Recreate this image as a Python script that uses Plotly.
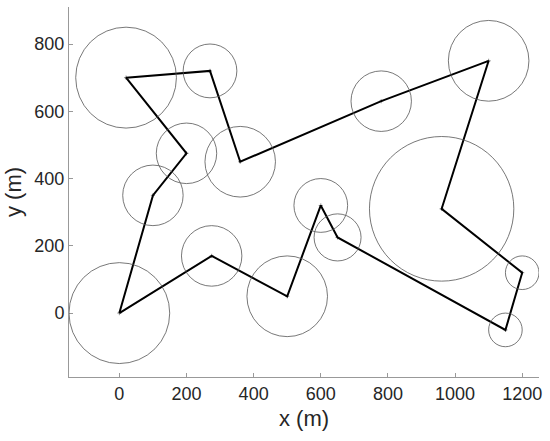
import plotly.graph_objects as go

# circle centres and radii (m)
cx = [0, 20, 270, 200, 360, 100, 275, 500, 600, 650, 780, 1100, 960, 1200, 1150]
cy = [0, 700, 720, 475, 450, 350, 170, 50, 320, 225, 630, 750, 310, 120, -50]
cr = [150, 150, 80, 90, 105, 90, 90, 120, 80, 70, 90, 120, 215, 50, 50]

# tour path
px = [0, 100, 200, 20, 270, 360, 780, 1100, 960, 1200, 1150, 650, 600, 500, 275, 0]
py = [0, 350, 475, 700, 720, 450, 630, 750, 310, 120, -50, 225, 320, 50, 170, 0]

x_ticks = [0, 200, 400, 600, 800, 1000, 1200]
y_ticks = [0, 200, 400, 600, 800]

fig = go.Figure()

shapes = []
for x, y, r in zip(cx, cy, cr):
    shapes.append(dict(type="circle", xref="x", yref="y",
                       x0=x - r, y0=y - r, x1=x + r, y1=y + r,
                       line=dict(color="#555555", width=0.8)))

fig.add_trace(go.Scatter(x=cx, y=cy, mode="markers",
                         marker=dict(symbol="cross-thin", size=3,
                                     line=dict(color="#777777", width=0.8)),
                         showlegend=False, hoverinfo="skip"))
fig.add_trace(go.Scatter(x=px, y=py, mode="lines",
                         line=dict(color="black", width=2),
                         showlegend=False))

fig.update_layout(
    width=550, height=441,
    margin=dict(l=69, r=11, t=7, b=64, autoexpand=False),
    paper_bgcolor="white", plot_bgcolor="white",
    shapes=shapes,
    font=dict(family="Liberation Sans, Arial, sans-serif", size=18, color="#262626"),
    xaxis=dict(range=[-150, 1250], tickvals=x_ticks, showgrid=False, zeroline=False,
               showline=True, linecolor="#999999", linewidth=1,
               ticks="inside", ticklen=4, tickcolor="#999999",
               title=dict(text="x (m)", standoff=8)),
    yaxis=dict(range=[-190, 910], tickvals=y_ticks, showgrid=False, zeroline=False,
               showline=True, linecolor="#999999", linewidth=1,
               ticks="inside", ticklen=4, tickcolor="#999999",
               title=dict(text="y (m)", standoff=6)),
)

fig.write_html("out.html",
               config={"displayModeBar": False},
               post_script="document.body.style.margin='0';document.body.style.overflow='hidden';")
